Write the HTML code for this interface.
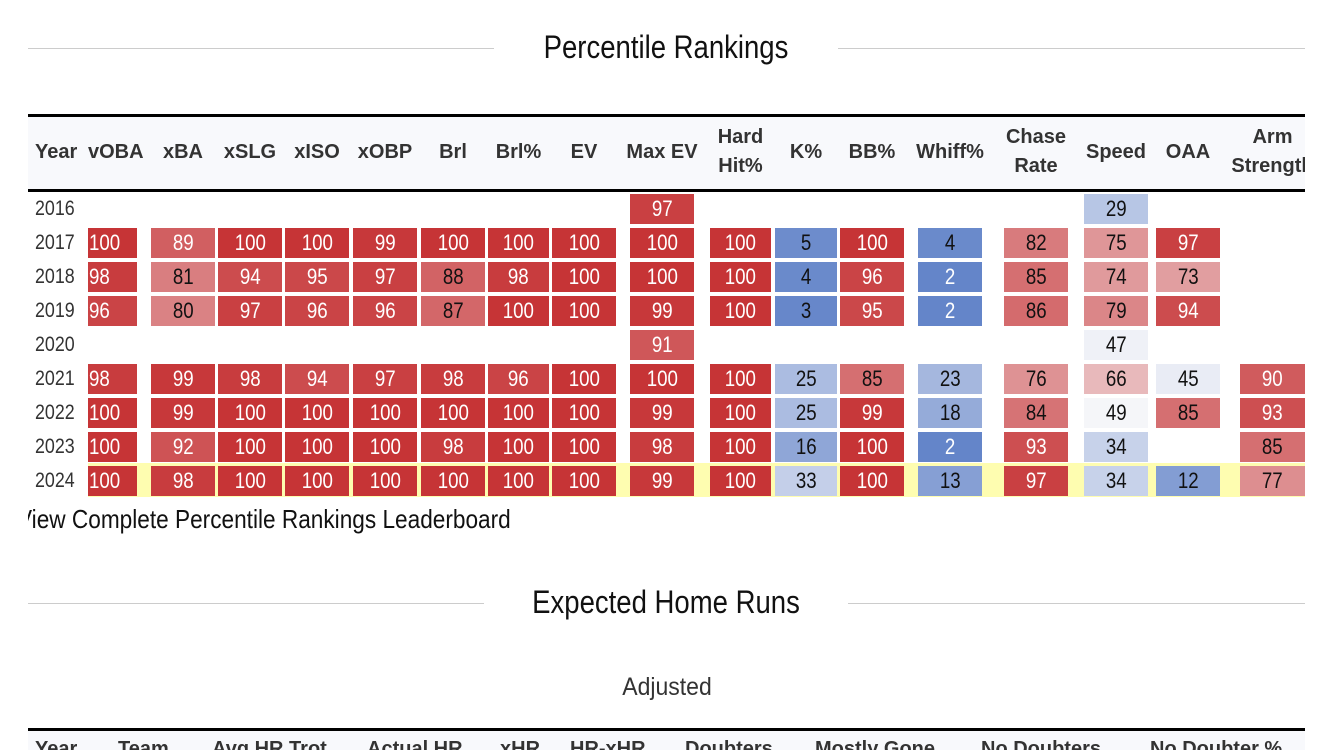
<!DOCTYPE html>
<html><head><meta charset="utf-8"><style>
body{margin:0;width:1334px;height:750px;background:#fff;overflow:hidden;position:relative;font-family:"Liberation Sans Narrow","Liberation Sans",sans-serif;}
.a{position:absolute}
.line{position:absolute;height:1px;background:#ccc}
.title{position:absolute;font-size:32px;color:#111;transform:scaleX(0.86);transform-origin:center;white-space:nowrap;text-align:center}
.hd{position:absolute;font-family:"Liberation Sans",sans-serif;font-weight:bold;font-size:20px;color:#333;text-align:center;line-height:29px;white-space:nowrap}
.c{position:absolute;height:30px;line-height:30px;text-align:center;font-size:22px}
.c span{display:inline-block;transform:scaleX(0.85)}
.yr{position:absolute;font-size:21px;color:#333;line-height:30px;left:35px;transform:scaleX(0.85);transform-origin:left}
</style></head><body>
<div class="line" style="left:28px;width:466px;top:48px"></div>
<div class="line" style="left:838px;width:467px;top:48px"></div>
<div class="title" style="left:494px;width:344px;top:29px">Percentile Rankings</div>

<div class="a" style="left:28px;width:1277px;top:114px;height:3px;background:#000"></div>
<div class="a" style="left:28px;width:1277px;top:117px;height:72px;background:#f8f9fc"></div>
<div class="a" style="left:28px;width:1277px;top:189px;height:3px;background:#000"></div>
<div class="a" style="left:88px;width:1217px;top:463px;height:34px;background:#fefdb0"></div>
<div class="a" id="tbl" style="left:28px;width:1277px;top:0;height:750px;overflow:hidden"></div>

<div class="a" style="left:28px;top:504px;width:600px;overflow:hidden;height:32px"><div style="position:absolute;left:-11px;font-size:26px;transform:scaleX(0.87);transform-origin:left;white-space:nowrap;color:#111">View Complete Percentile Rankings Leaderboard</div></div>

<div class="line" style="left:28px;width:456px;top:603px"></div>
<div class="line" style="left:848px;width:457px;top:603px"></div>
<div class="title" style="left:484px;width:364px;top:584px">Expected Home Runs</div>
<div class="a" style="left:0;width:1334px;top:673px;text-align:center;font-family:'Liberation Sans',sans-serif;font-size:25px;color:#333;transform:scaleX(0.92)">Adjusted</div>
<div class="a" style="left:28px;width:1277px;top:728px;height:3px;background:#000"></div>
<div class="a" style="left:28px;width:1277px;top:731px;height:19px;background:#f8f9fc"></div>
<div class="a" style="left:0;top:738px;width:1334px;height:12px;overflow:hidden;font-family:'Liberation Sans',sans-serif;font-weight:bold;font-size:20px;color:#333">
<span class="a" style="left:35px">Year</span><span class="a" style="left:118px">Team</span><span class="a" style="left:212px">Avg HR Trot</span><span class="a" style="left:367px">Actual HR</span><span class="a" style="left:500px">xHR</span><span class="a" style="left:570px">HR-xHR</span><span class="a" style="left:685px">Doubters</span><span class="a" style="left:815px">Mostly Gone</span><span class="a" style="left:981px">No Doubters</span><span class="a" style="left:1150px">No Doubter %</span></div>
<script>
var cols=[[88,137],[151,215],[218,282],[285,349],[353,417],[421,485],[488,549],[552,616],[630,694],[710,771],[775,837],[840,904],[918,982],[1004,1068],[1084,1148],[1156,1220],[1240,1305]];
var heads=["vOBA","xBA","xSLG","xISO","xOBP","Brl","Brl%","EV","Max EV","Hard<br>Hit%","K%","BB%","Whiff%","Chase<br>Rate","Speed","OAA","Arm<br>Strength"];
var N=null;
var rows=[
[2016,[N,N,N,N,N,N,N,N,97,N,N,N,N,N,29,N,N]],
[2017,[100,89,100,100,99,100,100,100,100,100,5,100,4,82,75,97,N]],
[2018,[98,81,94,95,97,88,98,100,100,100,4,96,2,85,74,73,N]],
[2019,[96,80,97,96,96,87,100,100,99,100,3,95,2,86,79,94,N]],
[2020,[N,N,N,N,N,N,N,N,91,N,N,N,N,N,47,N,N]],
[2021,[98,99,98,94,97,98,96,100,100,100,25,85,23,76,66,45,90]],
[2022,[100,99,100,100,100,100,100,100,99,100,25,99,18,84,49,85,93]],
[2023,[100,92,100,100,100,98,100,100,98,100,16,100,2,93,34,N,85]],
[2024,[100,98,100,100,100,100,100,100,99,100,33,100,13,97,34,12,77]]];
function col(v){var R=[198,52,54],W=[248,248,250],B=[94,128,199],t,a=W,b;
if(v>=50){t=(v-50)/50;b=R}else{t=(50-v)/50;b=B}
return "rgb("+[0,1,2].map(function(i){return Math.round(a[i]+(b[i]-a[i])*t)}).join(",")+")";}
var h="",T=document.getElementById("tbl");
heads.forEach(function(s,i){var c=cols[i],two=s.indexOf("<br>")>0;
var x=c[0]-28,w=c[1]-c[0];if(i==0){h+='<div class="hd" style="left:'+x+'px;top:138px;text-align:left">'+s+'</div>';return;}
h+='<div class="hd" style="left:'+(x-20)+'px;width:'+(w+40)+'px;top:'+(two?123:138)+'px">'+s+'</div>';});
h+='<div class="hd" style="left:7px;top:138px">Year</div>';
rows.forEach(function(r,ri){var y=194+ri*34;
h+='<div class="yr" style="left:7px;top:'+y+'px">'+r[0]+'</div>';
r[1].forEach(function(v,i){if(v===N)return;var c=cols[i];
var fg=(v>=89||v<=2)?"#fff":"#111";
h+='<div class="c" style="left:'+(c[0]-28)+'px;width:'+(c[1]-c[0])+'px;top:'+y+'px;background:'+col(v)+';color:'+fg+';'+(i==0?'text-align:left':'')+'"><span style="'+(i==0?'transform-origin:left;margin-left:1px':'')+'">'+v+'</span></div>';});});
T.innerHTML=h;
</script>
</body></html>
